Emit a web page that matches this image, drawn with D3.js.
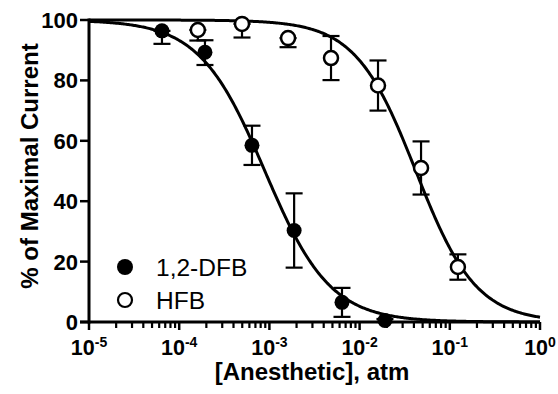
<!DOCTYPE html>
<html><head><meta charset="utf-8">
<script src="https://cdn.jsdelivr.net/npm/d3@7"></script>
<style>body{margin:0;background:#fff}svg{display:block}</style>
</head><body>
<script>
// Data
const dfbConc = [6.44e-5, 1.93e-4, 6.41e-4, 1.88e-3, 6.38e-3, 0.0191];
const dfbMean = [96.4, 89.3, 58.5, 30.3, 6.5, 0.5];
const dfbLow  = [92.1, 85.1, 52.0, 18.0, 1.7, 0.0];
const dfbHigh = [96.4, 93.3, 65.0, 42.6, 11.3, 1.0];
const hfbConc = [1.61e-4, 4.97e-4, 1.61e-3, 4.82e-3, 0.016, 0.048, 0.123];
const hfbMean = [96.7, 98.7, 94.0, 87.4, 78.3, 51.0, 18.2];
const hfbLow  = [93.2, 94.2, 91.0, 80.1, 70.0, 42.2, 14.0];
const hfbHigh = [96.7, 98.7, 94.0, 94.7, 86.6, 59.8, 22.4];
// Fitted Hill curves: [IC50 (atm), Hill slope]
const dfbFit = [8.9e-4, 1.2];
const hfbFit = [0.042, 1.3];
const xTickExps = [-5, -4, -3, -2, -1, 0];
const yTicks = [0, 20, 40, 60, 80, 100];
const seriesNames = ["1,2-DFB", "HFB"];

const W = 558, H = 394;
const svg = d3.select("body").append("svg").attr("width", W).attr("height", H);
const x = d3.scaleLog().domain([1e-5, 1]).range([89, 540]);
const y = d3.scaleLinear().domain([0, 100]).range([322, 20]);
const FONT = "'Liberation Sans', Arial, Helvetica, sans-serif";

// axes
const xAxisG = svg.append("g").attr("transform", `translate(0,${y(0)})`);
xAxisG.append("line").attr("x1", 80).attr("x2", x(1)).attr("y1", 0).attr("y2", 0)
  .attr("stroke", "#000").attr("stroke-width", 3);
const minor = [];
for (let e = -5; e < 0; e++) for (let m = 2; m <= 9; m++) minor.push(m * Math.pow(10, e));
xAxisG.selectAll("line.minor").data(minor).enter().append("line")
  .attr("x1", d => x(d)).attr("x2", d => x(d)).attr("y1", 0).attr("y2", 6)
  .attr("stroke", "#000").attr("stroke-width", 2.2);
xAxisG.selectAll("line.major").data(xTickExps).enter().append("line")
  .attr("x1", d => x(Math.pow(10, d))).attr("x2", d => x(Math.pow(10, d))).attr("y1", 0).attr("y2", 8)
  .attr("stroke", "#000").attr("stroke-width", 2.5);
const xl = xAxisG.selectAll("text").data(xTickExps).enter().append("text")
  .attr("x", d => x(Math.pow(10, d))).attr("y", 33).attr("text-anchor", "middle")
  .attr("font-family", FONT).attr("font-weight", "bold").attr("font-size", 21.5);
xl.append("tspan").text("10");
xl.append("tspan").attr("font-size", 14).attr("dy", -8).text(d => d);

const yAxisG = svg.append("g").attr("transform", `translate(${x(1e-5)},0)`);
yAxisG.append("line").attr("x1", 0).attr("x2", 0).attr("y1", y(100) - 1.5).attr("y2", y(0) + 1.5)
  .attr("stroke", "#000").attr("stroke-width", 3);
yAxisG.selectAll("line.t").data(yTicks).enter().append("line")
  .attr("x1", -9).attr("x2", 0).attr("y1", d => y(d)).attr("y2", d => y(d))
  .attr("stroke", "#000").attr("stroke-width", 2.5);
yAxisG.selectAll("text").data(yTicks).enter().append("text")
  .attr("x", -11).attr("y", d => y(d)).attr("dy", "0.36em").attr("text-anchor", "end")
  .attr("font-family", FONT).attr("font-weight", "bold").attr("font-size", 22).text(d => d);

// axis titles
svg.append("text").attr("x", 312).attr("y", 380).attr("text-anchor", "middle")
  .attr("font-family", FONT).attr("font-weight", "bold").attr("font-size", 24)
  .text("[Anesthetic], atm");
svg.append("text").attr("transform", "translate(38,166) rotate(-90)").attr("text-anchor", "middle")
  .attr("font-family", FONT).attr("font-weight", "bold").attr("font-size", 24)
  .text("% of Maximal Current");

// curves
const hill = (c, p) => 100 / (1 + Math.pow(c / p[0], p[1]));
const curveX = d3.range(0, 401).map(i => Math.pow(10, -5 + 5 * i / 400));
const line = d3.line().x(d => x(d[0])).y(d => y(d[1]));
[dfbFit, hfbFit].forEach(p => {
  svg.append("path").attr("d", line(curveX.map(c => [c, hill(c, p)])))
    .attr("fill", "none").attr("stroke", "#000").attr("stroke-width", 3);
});

// error bars and points
function drawSeries(conc, mean, lo, hi, filled) {
  const g = svg.append("g");
  const data = conc.map((c, i) => ({c, m: mean[i], lo: lo[i], hi: hi[i]}));
  data.forEach(d => {
    const cx = x(d.c), y1 = y(d.hi), y2 = y(d.lo);
    g.append("line").attr("x1", cx).attr("x2", cx).attr("y1", y1).attr("y2", y2)
      .attr("stroke", "#000").attr("stroke-width", 2.2);
    [y1, y2].forEach(yy => g.append("line").attr("x1", cx - 8.5).attr("x2", cx + 8.5)
      .attr("y1", yy).attr("y2", yy).attr("stroke", "#000").attr("stroke-width", 2.2));
  });
  g.selectAll("circle").data(data).enter().append("circle")
    .attr("cx", d => x(d.c)).attr("cy", d => y(d.m)).attr("r", filled ? 7.5 : 7)
    .attr("fill", filled ? "#000" : "#fff").attr("stroke", "#000").attr("stroke-width", filled ? 0 : 2.5);
}
drawSeries(hfbConc, hfbMean, hfbLow, hfbHigh, false);
drawSeries(dfbConc, dfbMean, dfbLow, dfbHigh, true);

// legend
const leg = svg.append("g");
seriesNames.forEach((n, i) => {
  const yy = 267 + i * 33;
  leg.append("circle").attr("cx", 125).attr("cy", yy).attr("r", i === 0 ? 8 : 7)
    .attr("fill", i === 0 ? "#000" : "#fff").attr("stroke", "#000").attr("stroke-width", i === 0 ? 0 : 2.2);
  leg.append("text").attr("x", 156).attr("y", yy).attr("dy", "0.36em")
    .attr("font-family", FONT).attr("font-size", 24.5).text(n);
});
</script>
</body></html>
